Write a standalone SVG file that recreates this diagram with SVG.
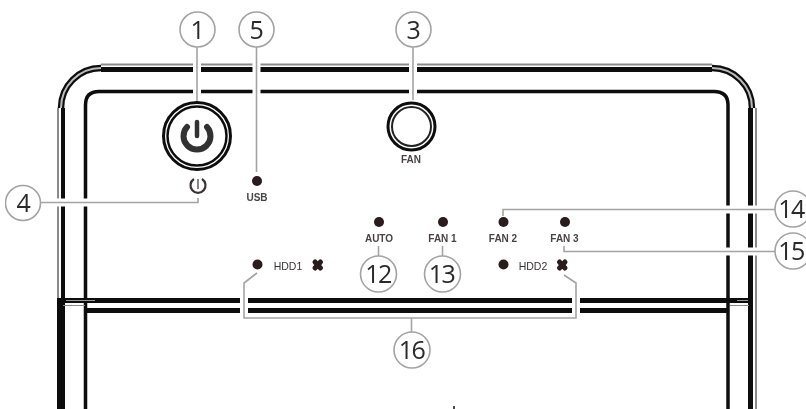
<svg xmlns="http://www.w3.org/2000/svg" width="806" height="409" viewBox="0 0 806 409">
<defs><filter id="soft" x="0" y="0" width="100%" height="100%"><feGaussianBlur stdDeviation="0.5"/></filter></defs>
<style>
.bg{fill:#fff}
.k{fill:none;stroke:#0a0a0a;stroke-linecap:butt}
.g{fill:none;stroke:#8a8a8a}
.halo{fill:none;stroke:#fff;stroke-width:8}
.c{fill:none;stroke:#a3a3a3;stroke-width:1.6}
.bub{fill:#fff;stroke:#a3a3a3;stroke-width:1.6}
.n{font-family:"Open Sans","Liberation Sans",sans-serif;font-size:25px;fill:#2a2a2a;text-anchor:middle;letter-spacing:-1.5px}
.l{font-family:"Liberation Sans",sans-serif;font-size:10px;font-weight:bold;fill:#4a4345;text-anchor:middle}
.h{font-family:"Liberation Sans",sans-serif;font-size:10.500px;fill:#3a3334;text-anchor:middle}
.d{fill:#2a1a1c}
.x{fill:none;stroke:#2a1a1c;stroke-width:5;stroke-linecap:round}
</style>
<rect class="bg" width="806" height="409"/>
<g filter="url(#soft)">
<g id="enclosure">
<path class="k" stroke-width="8" d="M61 409V298"/>
<path class="k" stroke-width="4" d="M63 298V108"/>
<path class="g" stroke-width="2" d="M58 298V108"/>
<path class="k" stroke-width="6.500" d="M61 108A40 40 0 0 1 101 68"/>
<path fill="none" stroke="#bbb" stroke-width="2" d="M61 108A40 40 0 0 1 101 68"/>
<path class="k" stroke-width="5" d="M101 69.500H712"/>
<path class="g" stroke-width="2" d="M101 64.500H712"/>
<path class="k" stroke-width="6.500" d="M712 68A40 40 0 0 1 752 108"/>
<path fill="none" stroke="#bbb" stroke-width="2" d="M712 68A40 40 0 0 1 752 108"/>
<path class="k" stroke-width="5" d="M750.500 108V409"/>
<path class="g" stroke-width="2" d="M756 108V409"/>
<path class="k" stroke-width="3.500" d="M85.500 409V105Q85.500 91.500 99 91.500H714Q728 91.500 728 105V409"/>
<path class="k" stroke-width="5" d="M62 300.500H750"/>
<path fill="none" stroke="#999" stroke-width="1.200" d="M66 300.500H95M737 300.500H748"/>
<path class="k" stroke-width="5" d="M85 310.500H728"/>
<path class="g" stroke-width="1" d="M63 305.500H85M730 305.500H749"/>
</g>
<g id="connectors">
<path class="halo" d="M197 47V100M256.500 47V100M413 47V99M244 297V315M576 297V315M725 209.500H759M725 251.500H759M56 202.500H68M81 202.500H90"/>
<path class="c" d="M197 46V101"/>
<path class="c" d="M256.500 46V172"/>
<path class="c" d="M413 46V100"/>
<path class="c" d="M40 202.500H198V198"/>
<path class="c" d="M378.500 256V246"/>
<path class="c" d="M442.500 256V246"/>
<path class="c" d="M776 209.500H503V216"/>
<path class="c" d="M776 251.500H564V246"/>
<path class="c" d="M257 273L244 283V318H576V283L564 275"/>
<path class="c" d="M411.500 318V332"/>
</g>
<g id="power-button">
<circle cx="197" cy="136" r="33.500" fill="#fff" stroke="#111" stroke-width="3"/>
<circle cx="197" cy="136" r="29.500" fill="none" stroke="#111" stroke-width="2.500"/>
<path d="M187 127A13.500 13.500 0 1 0 207 127" fill="none" stroke="#333" stroke-width="6" stroke-linecap="round"/>
<path d="M197 122V136" fill="none" stroke="#333" stroke-width="4.500" stroke-linecap="round"/>
</g>
<g id="power-led">
<path d="M194 179A7.500 7.500 0 1 0 202 179" fill="none" stroke="#3a3334" stroke-width="2.200"/>
<path d="M198 179V189" fill="none" stroke="#3a3334" stroke-width="1.200"/>
</g>
<g id="usb"><circle class="d" cx="257" cy="181" r="5"/><text class="l" x="257" y="200.500">USB</text></g>
<g id="fan-button">
<circle cx="411.500" cy="126.500" r="23.500" fill="#fff" stroke="#111" stroke-width="3"/>
<circle cx="411.500" cy="126.500" r="19.500" fill="none" stroke="#222" stroke-width="2"/>
<text class="l" x="411" y="163">FAN</text>
</g>
<g id="auto"><circle class="d" cx="379" cy="222" r="5"/><text class="l" x="379" y="241.500">AUTO</text></g>
<g id="fan1"><circle class="d" cx="443" cy="222" r="5"/><text class="l" x="442.500" y="241.500">FAN 1</text></g>
<g id="fan2"><circle class="d" cx="503.500" cy="222" r="5"/><text class="l" x="503" y="241.500">FAN 2</text></g>
<g id="fan3"><circle class="d" cx="565" cy="222" r="5"/><text class="l" x="564.500" y="241.500">FAN 3</text></g>
<g id="hdd1">
<circle class="d" cx="257.500" cy="264.500" r="5"/>
<text class="h" x="288" y="269.500">HDD1</text>
<path class="x" d="M315 262L320.500 268M320.500 262L315 268"/>
</g>
<g id="hdd2">
<circle class="d" cx="503.500" cy="264.500" r="5"/>
<text class="h" x="533" y="269.500">HDD2</text>
<path class="x" d="M559.500 262L565 268M565 262L559.500 268"/>
</g>
<g id="callout-1"><circle class="bub" cx="197.500" cy="29.500" r="17.500"/><text class="n" x="197" y="38.500">1</text></g>
<g id="callout-5"><circle class="bub" cx="256.500" cy="29.500" r="17.500"/><text class="n" x="256" y="38.500">5</text></g>
<g id="callout-3"><circle class="bub" cx="413.500" cy="29.500" r="17.500"/><text class="n" x="413" y="38.500">3</text></g>
<g id="callout-4"><circle class="bub" cx="23" cy="203" r="17.500"/><text class="n" x="23" y="212">4</text></g>
<g id="callout-12"><circle class="bub" cx="378.500" cy="274" r="18"/><text class="n" x="378" y="283">12</text></g>
<g id="callout-13"><circle class="bub" cx="442.500" cy="274" r="18"/><text class="n" x="441.500" y="283">13</text></g>
<g id="callout-14"><circle class="bub" cx="793" cy="209" r="18"/><text class="n" x="791" y="218">14</text></g>
<g id="callout-15"><circle class="bub" cx="793" cy="251" r="18"/><text class="n" x="791" y="260">15</text></g>
<g id="callout-16"><circle class="bub" cx="412" cy="350" r="18"/><text class="n" x="411.500" y="359">16</text></g>
<path d="M454 406V409" stroke="#111" stroke-width="1.500"/>
</g>
</svg>
